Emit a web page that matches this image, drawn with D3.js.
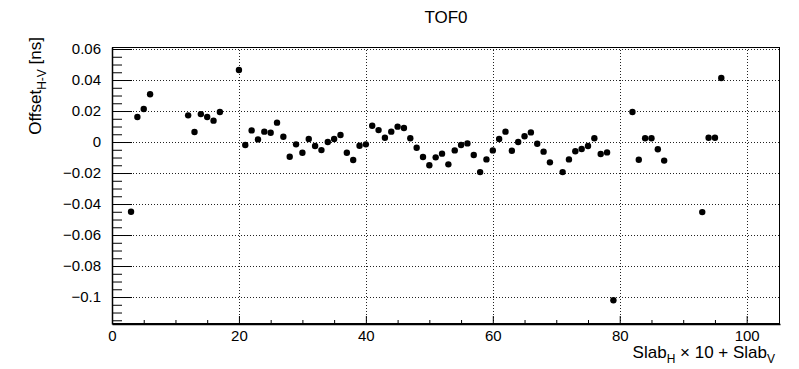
<!DOCTYPE html>
<html lang="en">
<head>
<meta charset="UTF-8">
<title>TOF0</title>
<script src="https://d3js.org/d3.v7.min.js"></script>
<style>
    body { margin: 0; background: #fff; }
    svg { display: block; font-family: "Liberation Sans", Arial, Helvetica, sans-serif; }
</style>
</head>
<body>
<div id="chart"></div>
<script>
    // slab index (H*10+V) and measured offset in ns
    var slabIds = [3, 4, 5, 6, 12, 13, 14, 15, 16, 17, 20, 21, 22, 23, 24, 25, 26, 27, 28, 29,
                   30, 31, 32, 33, 34, 35, 36, 37, 38, 39, 40, 41, 42, 43, 44, 45, 46, 47, 48, 49,
                   50, 51, 52, 53, 54, 55, 56, 57, 58, 59, 60, 61, 62, 63, 64, 65, 66, 67, 68, 69,
                   71, 72, 73, 74, 75, 76, 77, 78, 79, 82, 83, 84, 85, 86, 87, 93, 94, 95, 96];
    var offsets = [-0.0450, 0.0161, 0.0213, 0.0308, 0.0172, 0.0065, 0.0180, 0.0161, 0.0138, 0.0194,
                   0.0465, -0.0019, 0.0075, 0.0017, 0.0067, 0.0060, 0.0125, 0.0034, -0.0095, -0.0015,
                   -0.0069, 0.0019, -0.0026, -0.0052, 0.0000, 0.0019, 0.0045, -0.0069, -0.0116, -0.0024,
                   -0.0015, 0.0105, 0.0077, 0.0028, 0.0067, 0.0099, 0.0090, 0.0024, -0.0037, -0.0097,
                   -0.0150, -0.0099, -0.0075, -0.0144, -0.0054, -0.0019, -0.0009, -0.0084, -0.0194, -0.0112,
                   -0.0054, 0.0019, 0.0067, -0.0056, 0.0000, 0.0037, 0.0062, -0.0011, -0.0062, -0.0131,
                   -0.0194, -0.0112, -0.0060, -0.0045, -0.0026, 0.0024, -0.0077, -0.0067, -0.1021,
                   0.0194, -0.0114, 0.0024, 0.0024, -0.0047, -0.0120, -0.0452, 0.0028, 0.0028, 0.0413];

    var xTicks = [0, 20, 40, 60, 80, 100];
    var xTickLabels = ["0", "20", "40", "60", "80", "100"];
    var yTicks = [0.06, 0.04, 0.02, 0, -0.02, -0.04, -0.06, -0.08, -0.1];
    var yTickLabels = ["0.06", "0.04", "0.02", "0", "\u22120.02", "\u22120.04", "\u22120.06", "\u22120.08", "\u22120.1"];

    var data = slabIds.map(function(s, i) { return {slab: s, offset: offsets[i]}; });

    var w = 799, h = 369;
    var m = {top: 47, left: 112, right: 19, bottom: 45};

    var svg = d3.select('#chart').append('svg')
        .attr('width', w)
        .attr('height', h);

    var xScale = d3.scaleLinear()
        .domain([0, 105.25])
        .range([m.left, w - m.right]);
    var yScale = d3.scaleLinear()
        .domain([-0.1174, 0.0613])
        .range([h - m.bottom, m.top]);

    // dotted grid at major ticks
    var grid = svg.append('g').attr('class', 'grid');
    grid.selectAll('line.gx')
        .data(xTicks.filter(function(d) { return d > 0; }))
        .enter().append('line')
        .attr('x1', function(d) { return Math.round(xScale(d)) + 0.5; })
        .attr('x2', function(d) { return Math.round(xScale(d)) + 0.5; })
        .attr('y1', yScale.range()[0])
        .attr('y2', yScale.range()[1])
        .attr('stroke', '#222')
        .attr('stroke-width', 1)
        .attr('stroke-dasharray', '1,2');
    grid.selectAll('line.gy')
        .data(yTicks)
        .enter().append('line')
        .attr('x1', xScale.range()[0])
        .attr('x2', xScale.range()[1])
        .attr('y1', function(d) { return Math.round(yScale(d)) + 0.5; })
        .attr('y2', function(d) { return Math.round(yScale(d)) + 0.5; })
        .attr('stroke', '#222')
        .attr('stroke-width', 1)
        .attr('stroke-dasharray', '1,2');

    // frame
    svg.append('rect')
        .attr('x', m.left + 0.5)
        .attr('y', m.top + 0.5)
        .attr('width', w - m.left - m.right - 1)
        .attr('height', h - m.top - m.bottom - 1)
        .attr('fill', 'none')
        .attr('stroke', '#000')
        .attr('stroke-width', 1);

    // x axis: major ticks + labels, then minor ticks
    var xAxis = d3.axisBottom(xScale)
        .tickValues(xTicks)
        .tickFormat(function(d, i) { return xTickLabels[i]; })
        .tickSizeInner(-8)
        .tickSizeOuter(0)
        .tickPadding(6);
    var gx = svg.append('g')
        .attr('transform', 'translate(0,' + (h - m.bottom) + ')')
        .call(xAxis);
    var xMinor = d3.range(5, 105, 5).filter(function(d) { return d % 20 !== 0; });
    svg.append('g')
        .attr('transform', 'translate(0,' + (h - m.bottom) + ')')
        .call(d3.axisBottom(xScale).tickValues(xMinor).tickFormat('').tickSizeInner(-4).tickSizeOuter(0))
        .select('.domain').remove();

    // y axis
    var yAxis = d3.axisLeft(yScale)
        .tickValues(yTicks)
        .tickFormat(function(d, i) { return yTickLabels[i]; })
        .tickSizeInner(-20)
        .tickSizeOuter(0)
        .tickPadding(11);
    var gy = svg.append('g')
        .attr('transform', 'translate(' + m.left + ',0)')
        .call(yAxis);
    var yMinor = d3.range(-23, 13).map(function(k) { return k * 0.005; })
        .filter(function(d) { return Math.abs(Math.round(d * 1000) % 20) !== 0; });
    svg.append('g')
        .attr('transform', 'translate(' + m.left + ',0)')
        .call(d3.axisLeft(yScale).tickValues(yMinor).tickFormat('').tickSizeInner(-10).tickSizeOuter(0))
        .select('.domain').remove();

    [gx, gy].forEach(function(g) {
        g.select('.domain').attr('stroke-width', 1.5);
        g.selectAll('text')
            .attr('font-size', '15px')
            .attr('font-family', '"Liberation Sans", Arial, Helvetica, sans-serif')
            .attr('fill', '#000');
    });

    // points
    svg.append('g').selectAll('circle')
        .data(data)
        .enter().append('circle')
        .attr('cx', function(d) { return xScale(d.slab); })
        .attr('cy', function(d) { return yScale(d.offset); })
        .attr('r', 3.2)
        .attr('fill', '#000');

    // title
    svg.append('text')
        .attr('x', (xScale.range()[0] + xScale.range()[1]) / 2)
        .attr('y', 23)
        .attr('text-anchor', 'middle')
        .attr('font-size', '17px')
        .text('TOF0');

    // x title: Slab_H x 10 + Slab_V
    var xt = svg.append('text')
        .attr('x', 775)
        .attr('y', 358)
        .attr('text-anchor', 'end')
        .attr('font-size', '17px');
    xt.append('tspan').text('Slab');
    xt.append('tspan').attr('font-size', '12px').attr('dy', 5).text('H');
    xt.append('tspan').attr('dy', -5).text(' \u00d7 10 + Slab');
    xt.append('tspan').attr('font-size', '12px').attr('dy', 5).text('V');

    // y title: Offset_H-V [ns]
    var yt = svg.append('text')
        .attr('transform', 'translate(41,37) rotate(-90)')
        .attr('text-anchor', 'end')
        .attr('font-size', '17px');
    yt.append('tspan').text('Offset');
    yt.append('tspan').attr('font-size', '12px').attr('dy', 5).text('H-V');
    yt.append('tspan').attr('dy', -5).text(' [ns]');
</script>
</body>
</html>
